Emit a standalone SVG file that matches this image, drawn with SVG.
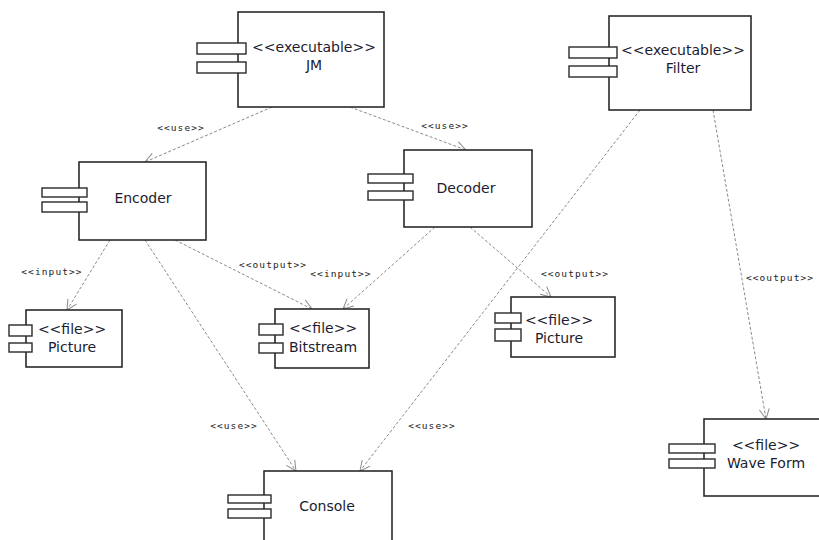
<svg xmlns="http://www.w3.org/2000/svg" width="819" height="540" viewBox="0 0 819 540">
<style>
.box{fill:#fff;stroke:#2a2a2a;stroke-width:1.6}
.port{fill:#fff;stroke:#2a2a2a;stroke-width:1.4}
.t{font-family:"DejaVu Sans",Verdana,sans-serif;font-size:14px;fill:#1c1c30;text-anchor:middle}
.c{fill:none;stroke:#8a8a8a;stroke-width:1;stroke-dasharray:3,2}
.l{font-family:"DejaVu Sans Mono",monospace;font-size:9.5px;fill:#222;text-anchor:middle;letter-spacing:1.1px}
</style>
<defs>
<marker id="a" viewBox="0 0 12 12" refX="11" refY="6" markerWidth="12" markerHeight="12" markerUnits="userSpaceOnUse" orient="auto">
<path d="M1,1 L11,6 L1,11" fill="none" stroke="#8a8a8a" stroke-width="1"/>
</marker>
</defs>
<g id="connectors">
<line class="c" x1="272" y1="107" x2="145" y2="162" marker-end="url(#a)"/>
<text class="l" x="181" y="131">&lt;&lt;use&gt;&gt;</text>
<line class="c" x1="350" y1="107" x2="466" y2="150" marker-end="url(#a)"/>
<text class="l" x="445" y="129">&lt;&lt;use&gt;&gt;</text>
<line class="c" x1="110" y1="240" x2="67" y2="310" marker-end="url(#a)"/>
<text class="l" x="52" y="275">&lt;&lt;input&gt;&gt;</text>
<line class="c" x1="175" y1="240" x2="312" y2="309" marker-end="url(#a)"/>
<text class="l" x="273" y="268">&lt;&lt;output&gt;&gt;</text>
<line class="c" x1="435" y1="227" x2="343" y2="309" marker-end="url(#a)"/>
<text class="l" x="341" y="277">&lt;&lt;input&gt;&gt;</text>
<line class="c" x1="470" y1="227" x2="551" y2="297" marker-end="url(#a)"/>
<text class="l" x="575" y="277">&lt;&lt;output&gt;&gt;</text>
<line class="c" x1="145" y1="240" x2="296" y2="471" marker-end="url(#a)"/>
<text class="l" x="234" y="429">&lt;&lt;use&gt;&gt;</text>
<line class="c" x1="640" y1="110" x2="360" y2="471" marker-end="url(#a)"/>
<text class="l" x="432" y="429">&lt;&lt;use&gt;&gt;</text>
<line class="c" x1="713" y1="110" x2="766" y2="419" marker-end="url(#a)"/>
<text class="l" x="780" y="281">&lt;&lt;output&gt;&gt;</text>
</g>
<g id="JM">
<rect class="box" x="238" y="12" width="146" height="95"/>
<rect class="port" x="197" y="43" width="49" height="11"/>
<rect class="port" x="197" y="62" width="49" height="11"/>
<text class="t" x="314" y="52">&lt;&lt;executable&gt;&gt;</text>
<text class="t" x="314" y="70">JM</text>
</g>
<g id="Filter">
<rect class="box" x="609" y="16" width="142" height="94"/>
<rect class="port" x="569" y="47" width="48" height="11"/>
<rect class="port" x="569" y="66" width="48" height="11"/>
<text class="t" x="683" y="55">&lt;&lt;executable&gt;&gt;</text>
<text class="t" x="683" y="73">Filter</text>
</g>
<g id="Encoder">
<rect class="box" x="79" y="162" width="127" height="78"/>
<rect class="port" x="42" y="188" width="45" height="9"/>
<rect class="port" x="42" y="202" width="45" height="10"/>
<text class="t" x="143" y="203">Encoder</text>
</g>
<g id="Decoder">
<rect class="box" x="404" y="150" width="128" height="77"/>
<rect class="port" x="368" y="174" width="45" height="9"/>
<rect class="port" x="368" y="191" width="45" height="9"/>
<text class="t" x="466" y="193">Decoder</text>
</g>
<g id="PictureLeft">
<rect class="box" x="26" y="310" width="96" height="57"/>
<rect class="port" x="9" y="325" width="23" height="11"/>
<rect class="port" x="9" y="343" width="23" height="9"/>
<text class="t" x="72" y="334">&lt;&lt;file&gt;&gt;</text>
<text class="t" x="72" y="352">Picture</text>
</g>
<g id="Bitstream">
<rect class="box" x="275" y="309" width="94" height="59"/>
<rect class="port" x="259" y="324" width="24" height="11"/>
<rect class="port" x="259" y="343" width="24" height="10"/>
<text class="t" x="323" y="333">&lt;&lt;file&gt;&gt;</text>
<text class="t" x="323" y="352">Bitstream</text>
</g>
<g id="PictureRight">
<rect class="box" x="511" y="297" width="104" height="60"/>
<rect class="port" x="495" y="313" width="26" height="10"/>
<rect class="port" x="495" y="329" width="26" height="12"/>
<text class="t" x="559" y="325">&lt;&lt;file&gt;&gt;</text>
<text class="t" x="559" y="343">Picture</text>
</g>
<g id="WaveForm">
<rect class="box" x="704" y="419" width="118" height="77"/>
<rect class="port" x="669" y="444" width="46" height="9"/>
<rect class="port" x="669" y="459" width="46" height="9"/>
<text class="t" x="766" y="450">&lt;&lt;file&gt;&gt;</text>
<text class="t" x="766" y="468">Wave Form</text>
</g>
<g id="Console">
<rect class="box" x="264" y="471" width="128" height="80"/>
<rect class="port" x="228" y="495" width="43" height="8"/>
<rect class="port" x="228" y="509" width="43" height="9"/>
<text class="t" x="327" y="511">Console</text>
</g>
</svg>
